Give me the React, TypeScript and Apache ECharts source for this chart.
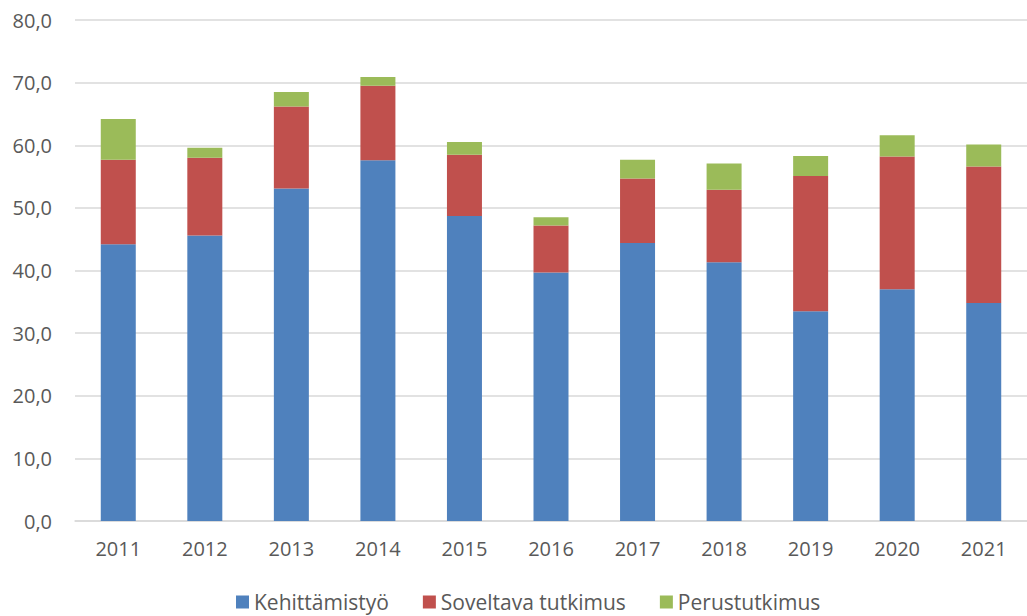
import React, { useEffect, useRef } from "react";
import * as echarts from "echarts";

const categories = ["2011", "2012", "2013", "2014", "2015", "2016", "2017", "2018", "2019", "2020", "2021"];
const kehittamistyo = [44.2, 45.6, 53.1, 57.6, 48.7, 39.7, 44.4, 41.3, 33.5, 37.0, 34.8];
const soveltava = [13.5, 12.4, 13.1, 11.9, 9.8, 7.5, 10.3, 11.6, 21.6, 21.2, 21.8];
const perustutkimus = [6.5, 1.6, 2.3, 1.4, 2.0, 1.3, 3.0, 4.2, 3.2, 3.4, 3.5];
const seriesNames = ["Kehittämistyö", "Soveltava tutkimus", "Perustutkimus"];
const colors = ["#4F81BD", "#C0504D", "#9BBB59"];

const FONT = "'Open Sans', 'Noto Sans', sans-serif";

export default function App() {
  const ref = useRef<HTMLDivElement>(null);
  useEffect(() => {
    if (!ref.current) return;
    const chart = echarts.init(ref.current, null, { renderer: "svg" });
    const data = [kehittamistyo, soveltava, perustutkimus];
    chart.setOption({
      animation: false,
      textStyle: { fontFamily: FONT },
      grid: { left: 75, top: 20, width: 955, height: 501, containLabel: false },
      legend: {
        left: 236,
        top: 591,
        padding: 0,
        icon: "rect",
        itemWidth: 13,
        itemHeight: 13,
        itemGap: 34,
        textStyle: { fontSize: 21, lineHeight: 22, color: "#595959", fontFamily: FONT },
        data: seriesNames,
      },
      xAxis: {
        type: "category",
        data: categories,
        axisLine: { show: true, lineStyle: { color: "#D9D9D9", width: 1.5 } },
        axisTick: { show: false },
        axisLabel: { color: "#595959", fontSize: 20, margin: 17, fontFamily: FONT },
      },
      yAxis: {
        type: "value",
        min: 0,
        max: 80,
        interval: 10,
        axisLine: { show: false },
        axisTick: { show: false },
        splitLine: { lineStyle: { color: "#D9D9D9", width: 1.5 } },
        axisLabel: {
          color: "#595959",
          fontSize: 20,
          margin: 23,
          fontFamily: FONT,
          formatter: (v: number) => v.toFixed(1).replace(".", ","),
        },
      },
      series: seriesNames.map((name, i) => ({
        name,
        type: "bar",
        stack: "total",
        barWidth: 35,
        data: data[i],
        itemStyle: { color: colors[i] },
      })),
    });
    return () => chart.dispose();
  }, []);
  return (
    <div
      ref={ref}
      style={{ position: "fixed", left: 0, top: 0, width: 1027, height: 616, background: "#fff" }}
    />
  );
}
